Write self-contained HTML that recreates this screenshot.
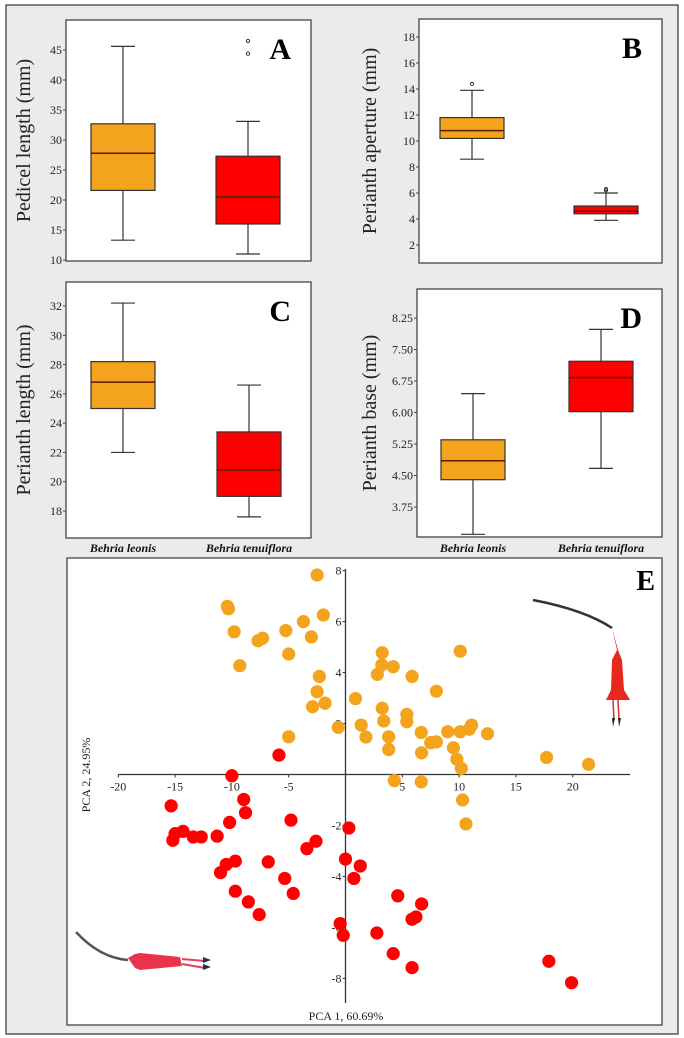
<!DOCTYPE html>
<html><head><meta charset="utf-8"><style>
html,body{margin:0;padding:0;background:#fff}
svg{display:block}
text{font-family:"Liberation Serif",serif}
</style></head><body>
<svg id="fig" width="684" height="1038" viewBox="0 0 684 1038" xmlns="http://www.w3.org/2000/svg">
<rect x="6" y="5" width="672" height="1029" fill="#ebebeb" stroke="#333" stroke-width="1.2"/>
<g id="boxes"></g>
<g id="pca"></g>
</svg>
<script>
const NS="http://www.w3.org/2000/svg";
function mk(parent,tag,attrs,txt){const e=document.createElementNS(NS,tag);for(const k in attrs)e.setAttribute(k,attrs[k]);if(txt!==undefined)e.textContent=txt;parent.appendChild(e);return e;}

// ---- Box plot data (min, q1, median, q3, max) ----
const categories=["Behria leonis","Behria tenuiflora"];
const pedicelLeonis=[13.3,21.6,27.8,32.7,45.6];
const pedicelTenuiflora=[11,16,20.5,27.3,33.1];
const pedicelOutliers=[44.4,46.5];
const apertureLeonis=[8.6,10.2,10.8,11.8,13.9];
const apertureTenuiflora=[3.9,4.4,4.6,5.0,6.0];
const apertureOutliersLeonis=[14.4];
const apertureOutliersTenuiflora=[6.2,6.3];
const lengthLeonis=[22,25,26.8,28.2,32.2];
const lengthTenuiflora=[17.6,19,20.8,23.4,26.6];
const baseLeonis=[3.1,4.4,4.85,5.35,6.45];
const baseTenuiflora=[4.67,6.02,6.83,7.22,7.98];
const ticksA=["10","15","20","25","30","35","40","45"];
const ticksB=["2","4","6","8","10","12","14","16","18"];
const ticksC=["18","20","22","24","26","28","30","32"];
const ticksD=["3.75","4.50","5.25","6.00","6.75","7.50","8.25"];

// ---- PCA data ----
const leonisPC1=[-2.5,-10.4,-10.3,-9.8,-9.3,-7.7,-7.3,-5.25,-5.0,-3.7,-3.0,-1.95,-2.3,-2.5,-2.9,-1.8,-5.0,-0.64,0.88,1.38,1.8,3.23,3.2,2.8,4.2,3.23,3.37,3.8,3.8,4.3,5.86,5.4,5.4,6.67,6.7,6.67,7.5,8.0,8.0,9.0,9.5,9.8,10.2,10.1,10.1,10.9,11.1,12.5,10.3,10.6,17.7,21.4];
const leonisPC2=[7.83,6.6,6.5,5.6,4.27,5.25,5.35,5.65,4.73,6.0,5.4,6.26,3.85,3.25,2.66,2.8,1.48,1.85,2.98,1.94,1.47,4.78,4.3,3.93,4.23,2.6,2.1,1.48,0.98,-0.24,3.85,2.36,2.07,1.65,0.85,-0.29,1.25,1.28,3.27,1.68,1.05,0.6,0.24,4.84,1.68,1.78,1.94,1.6,-1.0,-1.94,0.67,0.4];
const tenuPC1=[-5.86,-10.0,-15.35,-8.96,-8.8,-10.2,-4.8,-15.0,-15.2,-14.3,-13.4,-12.7,-11.3,-2.6,-3.4,0.3,-6.8,-9.7,-10.5,-11.0,0,1.3,0.74,-5.35,-4.6,-9.7,-8.55,-7.6,4.6,6.7,5.86,6.2,-0.47,-0.2,2.76,4.2,5.86,17.9,19.9];
const tenuPC2=[0.76,-0.05,-1.23,-0.98,-1.5,-1.88,-1.79,-2.32,-2.58,-2.23,-2.45,-2.45,-2.42,-2.62,-2.91,-2.1,-3.43,-3.4,-3.53,-3.85,-3.32,-3.59,-4.08,-4.08,-4.67,-4.58,-5.0,-5.5,-4.76,-5.08,-5.68,-5.59,-5.85,-6.31,-6.22,-7.03,-7.58,-7.33,-8.17];
const pcaXTicks=["-20","-15","-10","-5","5","10","15","20"];
const pcaYTicks=["-8","-6","-4","-2","2","4","6","8"];

const ORANGE="#f4a31c", RED="#ff0000", LINE="#333";

function boxPanel(cfg){
  const g=mk(document.getElementById('boxes'),'g',{});
  
  
  mk(g,'rect',{x:cfg.x0,y:cfg.y0,width:cfg.x1-cfg.x0,height:cfg.y1-cfg.y0,fill:'#fff',stroke:'#444','stroke-width':1.3,});
  const ys=v=>cfg.pA+(v-cfg.vA)*(cfg.pB-cfg.pA)/(cfg.vB-cfg.vA);
  cfg.ticks.forEach(t=>{
    const y=ys(parseFloat(t));
    mk(g,'line',{x1:cfg.x0-3,x2:cfg.x0,y1:y,y2:y,stroke:'#444','stroke-width':1,});
    mk(g,'text',{x:cfg.x0-4,y:y+4,'text-anchor':'end','font-size':12,fill:'#222',},t);
  });
  mk(g,'text',{x:0,y:0,transform:`translate(${cfg.tx},${(cfg.y0+cfg.y1)/2}) rotate(-90)`,'text-anchor':'middle','font-size':20,fill:'#222',},cfg.title);
  mk(g,'text',{x:cfg.x1-20,y:cfg.y0+39,'text-anchor':'end','font-size':30,'font-weight':'bold',fill:'#000',},cfg.letter);
  cfg.series.forEach((s,i)=>{
    const cx=s.cx,hw=32,d=s.data;
    const bg=mk(g,'g',{});
    
    
    mk(bg,'line',{x1:cx,x2:cx,y1:ys(d[0]),y2:ys(d[4]),stroke:LINE,'stroke-width':1.2});
    mk(bg,'line',{x1:cx-12,x2:cx+12,y1:ys(d[0]),y2:ys(d[0]),stroke:LINE,'stroke-width':1.2});
    mk(bg,'line',{x1:cx-12,x2:cx+12,y1:ys(d[4]),y2:ys(d[4]),stroke:LINE,'stroke-width':1.2});
    mk(bg,'rect',{x:cx-hw,y:ys(d[3]),width:2*hw,height:ys(d[1])-ys(d[3]),fill:s.color,stroke:LINE,'stroke-width':1.2});
    mk(bg,'line',{x1:cx-hw,x2:cx+hw,y1:ys(d[2]),y2:ys(d[2]),stroke:'#5a1a00','stroke-width':1.5});
    (s.out||[]).forEach(o=>mk(bg,'circle',{cx:cx,cy:ys(o),r:1.6,fill:'none',stroke:LINE,'stroke-width':1}));
  });
  if(cfg.cats){
    cfg.series.forEach((s,i)=>mk(g,'text',{x:s.cx,y:552,'text-anchor':'middle','font-size':12,'font-style':'italic','font-weight':'bold',fill:'#111',},categories[i]));
  }
}
boxPanel({name:'panel-a',x0:66,y0:20,x1:311,y1:261,vA:10,pA:260,vB:45,pB:50,ticks:ticksA,tx:30,title:'Pedicel length (mm)',letter:'A',
  series:[{cx:123,color:ORANGE,data:pedicelLeonis},{cx:248,color:RED,data:pedicelTenuiflora,out:pedicelOutliers}]});
boxPanel({name:'panel-b',x0:419,y0:19,x1:662,y1:263,vA:2,pA:245,vB:18,pB:37,ticks:ticksB,tx:376,title:'Perianth aperture (mm)',letter:'B',
  series:[{cx:472,color:ORANGE,data:apertureLeonis,out:apertureOutliersLeonis},{cx:606,color:RED,data:apertureTenuiflora,out:apertureOutliersTenuiflora}]});
boxPanel({name:'panel-c',x0:66,y0:282,x1:311,y1:538,vA:18,pA:511,vB:32,pB:306,ticks:ticksC,tx:30,title:'Perianth length (mm)',letter:'C',cats:true,
  series:[{cx:123,color:ORANGE,data:lengthLeonis},{cx:249,color:RED,data:lengthTenuiflora}]});
boxPanel({name:'panel-d',x0:417,y0:289,x1:662,y1:537,vA:3.75,pA:507,vB:8.25,pB:318,ticks:ticksD,tx:376,title:'Perianth base (mm)',letter:'D',cats:true,
  series:[{cx:473,color:ORANGE,data:baseLeonis},{cx:601,color:RED,data:baseTenuiflora}]});

// ---- PCA panel ----
(function(){
  const g=document.getElementById('pca');
  
  
  mk(g,'rect',{x:67,y:558,width:595,height:467,fill:'#fff',stroke:'#444','stroke-width':1.3,});
  const X0=345.5,SX=11.36,Y0=774.5,SY=25.48;
  const xs=v=>X0+v*SX, ys=v=>Y0-v*SY;
  mk(g,'line',{x1:xs(-20),x2:630,y1:Y0,y2:Y0,stroke:'#333','stroke-width':1.3,});
  mk(g,'line',{x1:X0,x2:X0,y1:569,y2:1003,stroke:'#333','stroke-width':1.3,});
  pcaXTicks.forEach(t=>{const x=xs(parseFloat(t));
    mk(g,'line',{x1:x,x2:x,y1:Y0,y2:Y0+3,stroke:'#333'});
    mk(g,'text',{x:x,y:Y0+16,'text-anchor':'middle','font-size':12,fill:'#222',},t);});
  pcaYTicks.forEach(t=>{const y=ys(parseFloat(t));
    mk(g,'line',{x1:X0-3,x2:X0,y1:y,y2:y,stroke:'#333'});
    mk(g,'text',{x:X0-4,y:y+4,'text-anchor':'end','font-size':12,fill:'#222',},t);});
  mk(g,'text',{x:346,y:1020,'text-anchor':'middle','font-size':12,fill:'#222',},'PCA 1, 60.69%');
  mk(g,'text',{x:0,y:0,transform:'translate(90,775) rotate(-90)','text-anchor':'middle','font-size':12,fill:'#222',},'PCA 2, 24.95%');
  mk(g,'text',{x:655,y:590,'text-anchor':'end','font-size':28,'font-weight':'bold',fill:'#000',},'E');
  const f1=mk(g,'g',{});
  
  
  mk(f1,'path',{d:'M533 600 Q585 610 612 628',fill:'none',stroke:'#333','stroke-width':2.5});
  mk(f1,'path',{d:'M612 628 L617 650 L612 660 L611 690 L606 700 L630 700 L624 690 L622 660 L618 650 Z',fill:'#e8281c'});
  mk(f1,'path',{d:'M613 700 L614 720 M618 700 L619 720',stroke:'#c33','stroke-width':1.5});
  mk(f1,'path',{d:'M612 718 l1 9 l2 -9 Z M618 718 l1 9 l2 -9 Z',fill:'#222'});
  const f2=mk(g,'g',{});
  
  
  mk(f2,'path',{d:'M76 932 Q100 958 128 960',fill:'none',stroke:'#555','stroke-width':2.5});
  mk(f2,'path',{d:'M128 958 L135 954 L140 953 L180 957 L182 966 L140 970 L135 968 Z',fill:'#e8334a'});
  mk(f2,'path',{d:'M182 959 L205 961 M182 964 L205 968',stroke:'#e04060','stroke-width':2});
  mk(f2,'path',{d:'M203 957 l8 3 l-8 3 Z M203 964 l8 3 l-8 3 Z',fill:'#234'});
  function dots(px,py,color,name){
    px.forEach((v,i)=>{
      const c=mk(g,'circle',{cx:xs(v),cy:ys(py[i]),r:6.6,fill:color});
      
      
    });
  }
  dots(leonisPC1,leonisPC2,ORANGE,'point-leonis');
  dots(tenuPC1,tenuPC2,RED,'point-tenuiflora');
})();
</script>
</body></html>
